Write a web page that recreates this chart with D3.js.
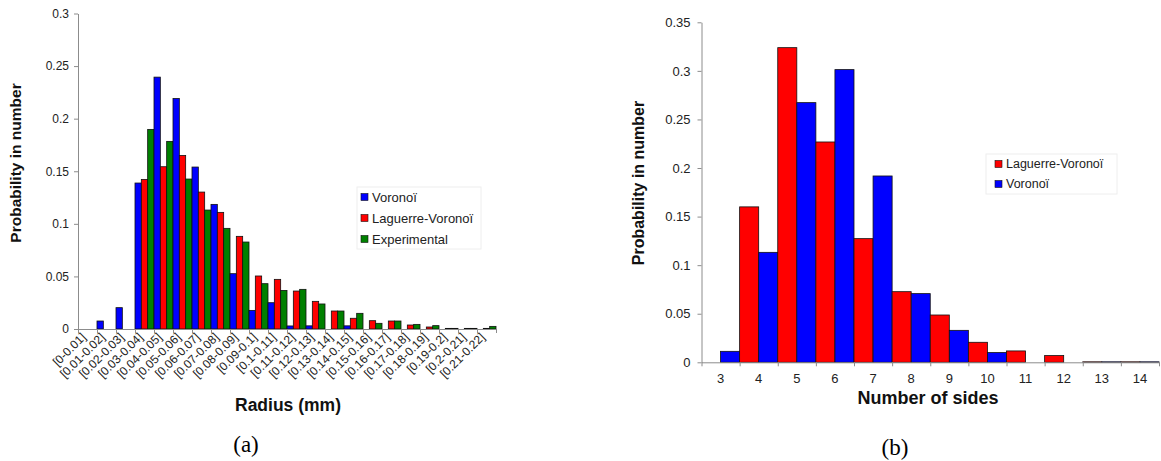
<!DOCTYPE html>
<html><head><meta charset="utf-8">
<script src="https://cdn.jsdelivr.net/npm/d3@7"></script>
<style>body{margin:0;background:#fff} svg{display:block}</style>
</head><body>
<svg id="c" width="1161" height="461"></svg>
<script>
// ---------- data: panel (a) ----------
const radiusCats = ["[0-0.01]","[0.01-0.02]","[0.02-0.03]","[0.03-0.04]","[0.04-0.05]","[0.05-0.06]","[0.06-0.07]","[0.07-0.08]","[0.08-0.09]","[0.09-0.1]","[0.1-0.11]","[0.11-0.12]","[0.12-0.13]","[0.13-0.14]","[0.14-0.15]","[0.15-0.16]","[0.16-0.17]","[0.17-0.18]","[0.18-0.19]","[0.19-0.2]","[0.2-0.21]","[0.21-0.22]"];
const radiusSeries = ["Voronoï","Laguerre-Voronoï","Experimental"];
const radiusVoronoi = [null,0.0076,0.0203,0.1388,0.2395,0.2192,0.154,0.1185,0.0526,0.0177,0.025,0.0029,0.003,null,0.003,null,null,null,null,null,null,null];
const radiusLaguerre = [null,null,null,0.1422,0.1543,0.165,0.1302,0.1109,0.0881,0.0504,0.0472,0.0361,0.0263,0.0171,0.0102,0.0079,0.0076,0.0038,0.0019,0.0006,0.0006,0.0006];
const radiusExperimental = [null,null,null,0.1898,0.1784,0.1426,0.1131,0.0957,0.0827,0.0431,0.0367,0.0377,0.0238,0.0171,0.0149,0.0054,0.0076,0.0044,0.0032,0.0006,0.0006,0.0025];
const radiusTicks = [0,0.05,0.1,0.15,0.2,0.25,0.3];

// ---------- data: panel (b) ----------
const sidesCats = ["3","4","5","6","7","8","9","10","11","12","13","14"];
const sidesSeries = ["Laguerre-Voronoï","Voronoï"];
const sidesLaguerre = [0,0.160,0.3239,0.2268,0.1273,0.0727,0.0487,0.0206,0.0117,0.0069,0.0005,0.0005];
const sidesVoronoi = [0.0113,0.1132,0.2673,0.3013,0.1918,0.0707,0.0329,0.0100,0,null,0.0005,0.0005];
const sidesTicks = [0,0.05,0.1,0.15,0.2,0.25,0.3,0.35];

const COL = {"Voronoï":"#0000ff","Laguerre-Voronoï":"#ff0000","Experimental":"#008000"};
const FONT = "'Liberation Sans', Arial, sans-serif";
const svg = d3.select("#c");
const fmt = d => String(+d.toFixed(2));

function panel(o){
  const g = svg.append("g");
  const x = d3.scaleBand().domain(o.cats).range([o.x0,o.x1]).paddingInner(0).paddingOuter(0);
  const xs = d3.scaleBand().domain(o.series).range([0,x.bandwidth()]).padding(0);
  const xb = d3.scaleLinear().domain([0,o.cats.length]).range([o.x0,o.x1]);
  const y = d3.scaleLinear().domain([0,o.ymax]).range([o.y0,o.y1]);
  // y axis
  const ya = g.append("g").attr("transform",`translate(${o.x0},0)`)
    .call(d3.axisLeft(y).tickValues(o.yticks).tickFormat(fmt).tickSize(4).tickSizeOuter(0).tickPadding(o.ypad));
  ya.selectAll("path,line").attr("stroke","#8c8c8c");
  ya.selectAll("text").attr("font-family",FONT).attr("font-size",o.yfs).attr("fill","#222");
  // bars
  const rows = [];
  o.cats.forEach((c,i)=>o.series.forEach((s,j)=>{ const v=o.values[j][i]; if(v!==null) rows.push({c,s,v}); }));
  g.append("g").selectAll("rect").data(rows).join("rect")
    .attr("x",d=>x(d.c)+xs(d.s)).attr("width",xs.bandwidth())
    .attr("y",d=>y(d.v)).attr("height",d=>Math.max(0,o.y0-y(d.v)))
    .attr("fill",d=>COL[d.s]).attr("stroke","#111").attr("stroke-width",0.8);
  // x axis line + boundary ticks
  const xa = g.append("g").attr("transform",`translate(0,${o.y0})`)
    .call(d3.axisBottom(xb).tickValues(d3.range(o.cats.length+1)).tickFormat("").tickSize(4).tickSizeOuter(0));
  xa.selectAll("path,line").attr("stroke","#8c8c8c");
  // x labels
  const lab = g.append("g").selectAll("text").data(o.cats).join("text")
    .attr("font-family",FONT).attr("font-size",o.xfs).attr("fill","#222");
  if(o.rotate){
    lab.attr("text-anchor","end")
      .attr("transform",d=>`translate(${x(d)+x.bandwidth()/2+o.lx},${o.y0+o.ly}) rotate(-45)`)
      .text(d=>d);
  } else {
    lab.attr("text-anchor","middle").attr("x",d=>x(d)+x.bandwidth()/2).attr("y",o.y0+o.ly).text(d=>d);
  }
  // axis titles
  g.append("text").attr("transform",`translate(${o.ytx},${o.yty}) rotate(-90)`)
    .attr("text-anchor","middle").attr("font-family",FONT).attr("font-weight","bold")
    .attr("font-size",o.ytfs).attr("fill","#111").text("Probability in number");
  g.append("text").attr("x",o.xtx).attr("y",o.xty).attr("text-anchor","middle")
    .attr("font-family",FONT).attr("font-weight","bold").attr("font-size",o.xtfs).attr("fill","#111").text(o.xtitle);
  g.append("text").attr("x",o.capx).attr("y",o.capy).attr("text-anchor","middle")
    .attr("font-family","'Liberation Serif','Times New Roman',serif").attr("font-size",23).attr("fill","#000").text(o.cap);
  // legend
  const lg = g.append("g").attr("transform",`translate(${o.lgx},${o.lgy})`);
  lg.append("rect").attr("width",o.lgw).attr("height",o.lgh).attr("fill","#fff").attr("stroke","#eeeeee");
  o.legend.forEach((s,i)=>{
    const yy = o.lgpad + i*o.lgstep;
    lg.append("rect").attr("x",o.lgsx).attr("y",yy-3.5).attr("width",7).attr("height",7)
      .attr("fill",COL[s]).attr("stroke","#111").attr("stroke-width",0.6);
    lg.append("text").attr("x",o.lgsx+11).attr("y",yy).attr("dy","0.35em")
      .attr("font-family",FONT).attr("font-size",o.lgfs).attr("fill","#222").text(s);
  });
}

panel({cats:radiusCats, series:radiusSeries, values:[radiusVoronoi,radiusLaguerre,radiusExperimental],
  x0:78, x1:496, y0:329, y1:13.5, ymax:0.3, yticks:radiusTicks, ypad:5, yfs:12, xfs:12,
  rotate:true, lx:-1, ly:9,
  ytx:21, yty:163, ytfs:15.5, xtx:288, xty:411, xtfs:17.5, xtitle:"Radius (mm)",
  capx:246, capy:452, cap:"(a)",
  legend:["Voronoï","Laguerre-Voronoï","Experimental"], lgx:357, lgy:187, lgw:124, lgh:62, lgpad:10, lgstep:21, lgsx:4, lgfs:13});

panel({cats:sidesCats, series:sidesSeries, values:[sidesLaguerre,sidesVoronoi],
  x0:701.5, x1:1159, y0:362.3, y1:22.3, ymax:0.35, yticks:sidesTicks, ypad:7, yfs:13, xfs:13,
  rotate:false, lx:0, ly:21, 
  ytx:644, yty:183, ytfs:16, xtx:928, xty:404, xtfs:18, xtitle:"Number of sides",
  capx:895, capy:455, cap:"(b)",
  legend:["Laguerre-Voronoï","Voronoï"], lgx:986, lgy:154, lgw:131, lgh:40, lgpad:10, lgstep:20, lgsx:9, lgfs:12.5});
</script>
</body></html>
